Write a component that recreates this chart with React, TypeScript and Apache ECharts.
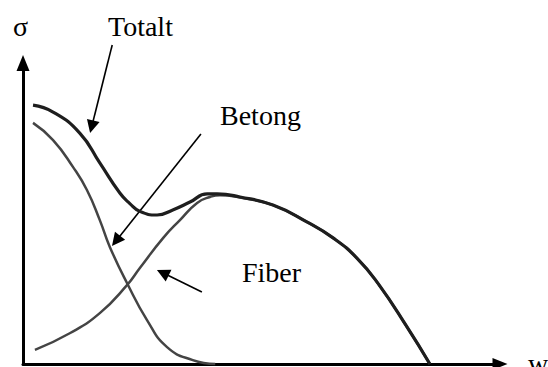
import React, { useEffect, useRef } from 'react';
import * as echarts from 'echarts';

// Schematic σ–w curves (arbitrary units, w: 0–100, σ: 0–100)
const totaltW = [2.1, 6.3, 11.9, 16.1, 20.3, 22.4, 24.5, 28.1, 31.4, 35.0, 38.6, 40.7, 45.5, 52.4, 59.5, 65.0, 70.0, 74.5, 80.5, 85.3];
const totaltS = [86.0, 83.7, 76.7, 66.8, 56.8, 53.3, 50.7, 49.5, 51.2, 53.8, 56.5, 56.5, 55.5, 52.8, 47.2, 41.9, 35.2, 26.6, 12.3, 0];
const betongW = [2.1, 6.3, 10.5, 13.4, 16.1, 18.2, 21.8, 26.0, 30.2, 35.6, 40.3];
const betongS = [80.1, 74.4, 65.4, 57.8, 47.8, 38.9, 26.9, 14.6, 5.6, 1.3, 0];
const fiberW = [2.5, 9.9, 16.1, 21.8, 24.5, 29.4, 32.9, 36.5, 39.2, 41.3, 45.5, 52.4, 59.5, 65.0, 70.0, 74.5, 80.5, 85.3];
const fiberS = [4.7, 10.3, 16.9, 26.2, 31.9, 41.9, 47.8, 53.5, 55.5, 56.1, 55.3, 52.8, 47.2, 41.9, 35.2, 26.6, 12.3, 0];

// Annotation arrows (data coords): start -> end
const arrowStartW = [18.7, 37.3, 37.5];
const arrowStartS = [106.0, 76.4, 23.9];
const arrowEndW = [14.4, 19.5, 29.3];
const arrowEndS = [78.8, 40.9, 30.3];

const zip = (xs: number[], ys: number[]) => xs.map((x, i) => [x, ys[i]]);

const FONT = '28px "Liberation Serif", "DejaVu Serif", serif';

export default function App() {
  const ref = useRef<HTMLDivElement>(null);
  useEffect(() => {
    if (!ref.current) return;
    const chart = echarts.init(ref.current, undefined, { renderer: 'svg' });
    const txt = (text: string, x: number, y: number) => ({
      type: 'text',
      x,
      y,
      style: { text, font: FONT, fill: '#000', textAlign: 'left', textVerticalAlign: 'middle' },
    });
    chart.setOption({
      animation: false,
      backgroundColor: '#fff',
      grid: { left: 23, right: 48, top: 63, bottom: 3, containLabel: false, outerBoundsMode: 'none' },
      xAxis: {
        type: 'value',
        min: 0,
        max: 100,
        axisLine: {
          show: true,
          symbol: ['none', 'triangle'],
          symbolSize: [12, 15],
          lineStyle: { color: '#000', width: 3 },
        },
        axisTick: { show: false },
        axisLabel: { show: false },
        splitLine: { show: false },
      },
      yAxis: {
        type: 'value',
        min: 0,
        max: 100,
        axisLine: {
          show: true,
          symbol: ['none', 'triangle'],
          symbolSize: [13, 16],
          lineStyle: { color: '#000', width: 3 },
        },
        axisTick: { show: false },
        axisLabel: { show: false },
        splitLine: { show: false },
      },
      series: [
        {
          name: 'Betong',
          type: 'line',
          data: zip(betongW, betongS),
          smooth: 0.5,
          showSymbol: false,
          lineStyle: { color: '#444', width: 2.5 },
          clip: false,
        },
        {
          name: 'Fiber',
          type: 'line',
          data: zip(fiberW, fiberS),
          smooth: 0.5,
          showSymbol: false,
          lineStyle: { color: '#444', width: 2.5 },
          clip: false,
        },
        {
          name: 'Totalt',
          type: 'line',
          data: zip(totaltW, totaltS),
          smooth: 0.5,
          showSymbol: false,
          lineStyle: { color: '#1e1e1e', width: 3.2 },
          clip: false,
        },
        {
          name: 'arrows',
          type: 'lines',
          coordinateSystem: 'cartesian2d',
          clip: false,
          symbol: ['none', 'triangle'],
          symbolSize: 13,
          lineStyle: { color: '#000', width: 1.6, opacity: 1 },
          data: arrowStartW.map((w, i) => ({
            coords: [
              [w, arrowStartS[i]],
              [arrowEndW[i], arrowEndS[i]],
            ],
          })),
        },
      ],
      graphic: [
        txt('σ', 13, 26),
        txt('Totalt', 108, 26),
        txt('Betong', 220, 115),
        txt('Fiber', 242, 272),
        txt('w', 528, 363),
      ],
    });
    return () => chart.dispose();
  }, []);
  return (
    <div
      ref={ref}
      style={{ position: 'fixed', left: 0, top: 0, width: 548, height: 367, background: '#fff' }}
    />
  );
}
